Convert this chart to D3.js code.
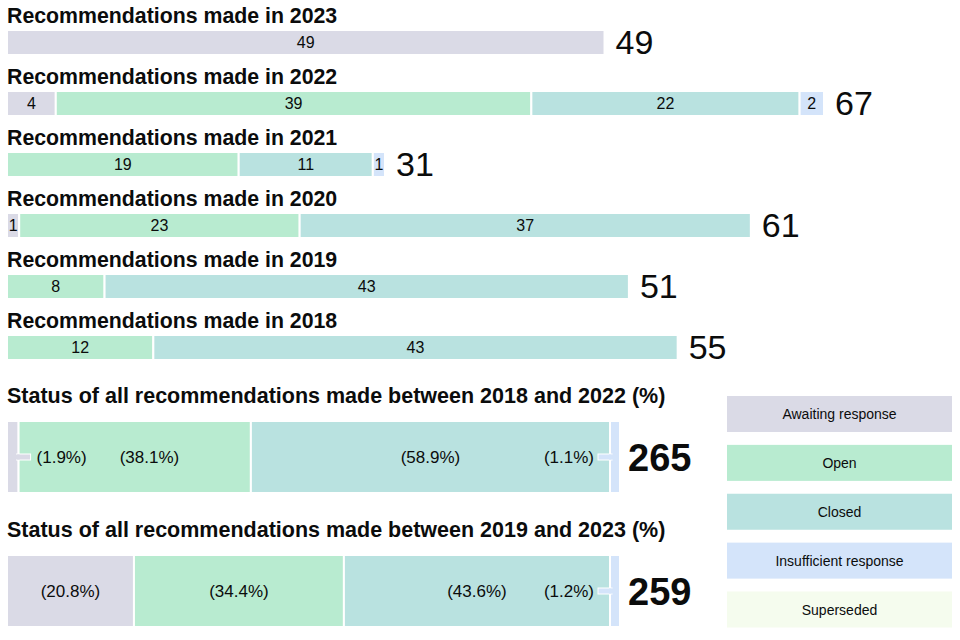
<!DOCTYPE html>
<html>
<head>
<meta charset="utf-8">
<script src="https://cdn.jsdelivr.net/npm/d3@7"></script>
<style>
  body { margin: 0; background: #fff; }
  svg { display: block; font-family: "Liberation Sans", Arial, sans-serif; }
</style>
</head>
<body>
<div id="chart"></div>
<script>
const width = 960
const height = 640

const years = ['2023', '2022', '2021', '2020', '2019', '2018']
const statuses = ['Awaiting response', 'Open', 'Closed', 'Insufficient response', 'Superseded']
const colors = ['#dadae6', '#b8ebd0', '#b9e2e0', '#d4e4fa', '#f5fcee']

// counts per year, in status order
const awaiting = [49, 4, 0, 1, 0, 0]
const open = [0, 39, 19, 23, 8, 12]
const closed = [0, 22, 11, 37, 43, 43]
const insufficient = [0, 2, 1, 0, 0, 0]
const superseded = [0, 0, 0, 0, 0, 0]

const summaryTitles = [
  'Status of all recommendations made between 2018 and 2022 (%)',
  'Status of all recommendations made between 2019 and 2023 (%)'
]
const summaryPct = [
  [1.9, 38.1, 58.9, 1.1, 0],
  [20.8, 34.4, 43.6, 1.2, 0]
]
const summaryTotals = [265, 259]

const rows = years.map((year, i) => {
  const values = [awaiting[i], open[i], closed[i], insufficient[i], superseded[i]]
  return { year, values, total: d3.sum(values) }
})

const svg = d3
  .select('#chart')
  .append('svg')
  .attr('width', width)
  .attr('height', height)

// ---- yearly bars ----
const xScale = d3
  .scaleLinear()
  .domain([0, d3.max(rows, d => d.total)])
  .range([7, 824])

const yScale = d3.scalePoint().domain(years).range([30, 335])
const barH = 25

const row = svg
  .selectAll('g.row')
  .data(rows)
  .enter()
  .append('g')
  .attr('class', 'row')
  .attr('transform', d => `translate(0, ${yScale(d.year)})`)

row
  .append('text')
  .attr('x', 7)
  .attr('y', -7.5)
  .attr('font-size', 21.3)
  .attr('font-weight', 'bold')
  .attr('fill', '#0b0c0c')
  .text(d => 'Recommendations made in ' + d.year)

row.each(function (d) {
  let acc = 0
  const segs = []
  d.values.forEach((v, k) => {
    if (v > 0) segs.push({ v, k, start: acc, end: acc + v })
    acc += v
  })
  const g = d3.select(this)
  g.selectAll('rect')
    .data(segs)
    .enter()
    .append('rect')
    .attr('x', s => xScale(s.start))
    .attr('width', s => xScale(s.end) - xScale(s.start))
    .attr('y', 0)
    .attr('height', barH)
    .attr('fill', s => colors[s.k])
    .attr('stroke', '#fff')
    .attr('stroke-width', 2)
  g.selectAll('text.val')
    .data(segs)
    .enter()
    .append('text')
    .attr('class', 'val')
    .attr('x', s => (xScale(s.start) + xScale(s.end)) / 2)
    .attr('y', barH / 2)
    .attr('dy', '0.36em')
    .attr('text-anchor', 'middle')
    .attr('font-size', 16)
    .attr('fill', '#0b0c0c')
    .text(s => s.v)
})

row
  .append('text')
  .attr('x', d => xScale(d.total) + 11)
  .attr('y', barH - 1)
  .attr('font-size', 34)
  .attr('fill', '#0b0c0c')
  .text(d => d.total)

// ---- summary bars ----
const sumX0 = 7
const sumX1 = 620
const minW = 10
const sumBarH = 72
const sumY = [421, 555]

summaryPct.forEach((pcts, j) => {
  const g = svg.append('g').attr('transform', `translate(0, ${sumY[j]})`)

  g.append('text')
    .attr('x', 7)
    .attr('y', -18)
    .attr('font-size', 21.5)
    .attr('font-weight', 'bold')
    .attr('fill', '#0b0c0c')
    .text(summaryTitles[j])

  // small segments get a minimum width, the rest share what is left
  const items = pcts.map((p, k) => ({ p, k })).filter(s => s.p > 0)
  const small = items.filter(s => (s.p / 100) * (sumX1 - sumX0) < minW)
  const restPct = d3.sum(items.filter(s => !small.includes(s)), s => s.p)
  const px = d3
    .scaleLinear()
    .domain([0, restPct])
    .range([0, sumX1 - sumX0 - small.length * minW])
  let x = sumX0
  items.forEach(s => {
    s.x0 = x
    s.w = small.includes(s) ? minW : px(s.p)
    x += s.w
    s.x1 = x
  })

  g.selectAll('rect.seg')
    .data(items)
    .enter()
    .append('rect')
    .attr('class', 'seg')
    .attr('x', s => s.x0)
    .attr('width', s => s.w)
    .attr('y', 0)
    .attr('height', sumBarH)
    .attr('fill', s => colors[s.k])
    .attr('stroke', '#fff')
    .attr('stroke-width', 2)

  const cy = sumBarH / 2
  const stubH = 6
  let prevRight = -Infinity

  function stub(x0, x1, k, joinX) {
    g.append('rect')
      .attr('x', x0)
      .attr('y', cy - stubH / 2)
      .attr('width', x1 - x0)
      .attr('height', stubH)
      .attr('fill', colors[k])
      .attr('stroke', '#fff')
      .attr('stroke-width', 1)
    // cover the white seam where the stub meets its segment
    g.append('rect')
      .attr('x', joinX - 2)
      .attr('y', cy - stubH / 2 + 0.5)
      .attr('width', 4)
      .attr('height', stubH - 1)
      .attr('fill', colors[k])
  }

  items.forEach((s, i) => {
    const label = '(' + s.p + '%)'
    const t = g
      .append('text')
      .attr('y', cy)
      .attr('dy', '0.36em')
      .attr('font-size', 17)
      .attr('fill', '#0b0c0c')
      .text(label)
    const tw = t.node().getComputedTextLength()
    if (s.w > tw + 10) {
      let cx = (s.x0 + s.x1) / 2
      if (cx - tw / 2 < prevRight + 33) cx = prevRight + 33 + tw / 2
      t.attr('x', cx).attr('text-anchor', 'middle')
      prevRight = cx + tw / 2
    } else if (i === 0) {
      // label outside to the right, with a stub
      stub(s.x1 - 2, s.x1 + 12, s.k, s.x1 - 1)
      t.attr('x', s.x1 + 18).attr('text-anchor', 'start').raise()
      prevRight = s.x1 + 18 + tw
    } else {
      // label outside to the left, with a stub
      stub(s.x0 - 12, s.x0 + 2, s.k, s.x0 + 1)
      t.attr('x', s.x0 - 16).attr('text-anchor', 'end').raise()
    }
  })

  g.append('text')
    .attr('x', sumX1 + 8)
    .attr('y', cy + 13.5)
    .attr('font-size', 38)
    .attr('font-weight', 'bold')
    .attr('fill', '#0b0c0c')
    .text(summaryTotals[j])
})

// ---- legend ----
const legendY = d3.scalePoint().domain(statuses).range([396, 591.5])

const legend = svg
  .selectAll('g.legend')
  .data(statuses)
  .enter()
  .append('g')
  .attr('class', 'legend')
  .attr('transform', d => `translate(727, ${legendY(d)})`)

legend
  .append('rect')
  .attr('width', 225)
  .attr('height', 36)
  .attr('fill', (d, i) => colors[i])

legend
  .append('text')
  .attr('x', 112.5)
  .attr('y', 18)
  .attr('dy', '0.36em')
  .attr('text-anchor', 'middle')
  .attr('font-size', 14)
  .attr('fill', '#0b0c0c')
  .text(d => d)
</script>
</body>
</html>
